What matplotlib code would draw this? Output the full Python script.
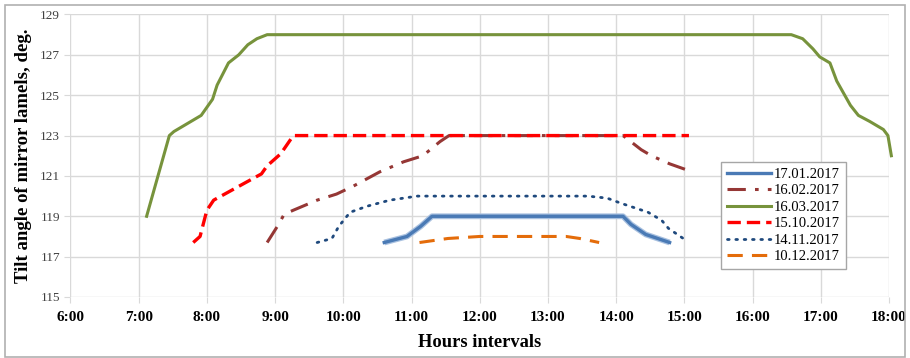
import matplotlib.pyplot as plt
from matplotlib.patches import Rectangle

# Данные: время (ЧЧ:ММ) и угол наклона ламелей, град.
jan17_t = ["10:36", "10:56", "11:08", "11:18", "14:06", "14:13", "14:26", "14:47"]
jan17_v = [117.7, 118.0, 118.5, 119.0, 119.0, 118.6, 118.1, 117.7]

feb16_t = ["8:53", "9:02", "9:08", "9:16", "9:37", "9:54", "10:09", "10:32", "10:53",
           "11:10", "11:25", "11:33", "14:06", "14:22", "14:31", "14:47", "15:02"]
feb16_v = [117.7, 118.5, 119.1, 119.3, 119.8, 120.1, 120.5, 121.2, 121.7,
           122.0, 122.7, 123.0, 123.0, 122.3, 122.0, 121.6, 121.3]

mar16_t = ["7:07", "7:27", "7:31", "7:55", "8:05", "8:09", "8:19", "8:28", "8:36", "8:44",
           "8:53", "16:34", "16:44", "16:53", "16:59", "17:08", "17:14", "17:18", "17:26",
           "17:33", "17:43", "17:55", "17:59", "18:02"]
mar16_v = [119.0, 123.0, 123.2, 124.0, 124.8, 125.5, 126.6, 127.0, 127.5, 127.8,
           128.0, 128.0, 127.8, 127.3, 126.9, 126.6, 125.7, 125.3, 124.5,
           124.0, 123.7, 123.3, 123.0, 122.0]

oct15_t = ["7:48", "7:54", "8:00", "8:06", "8:35", "8:48", "8:53", "9:05", "9:16", "15:04"]
oct15_v = [117.7, 118.0, 119.3, 119.8, 120.7, 121.1, 121.5, 122.1, 123.0, 123.0]

nov14_t = ["9:37", "9:50", "9:56", "10:06", "10:21", "10:41", "11:05", "13:35", "13:52",
           "14:04", "14:28", "14:40", "14:46", "14:59"]
nov14_v = [117.7, 117.9, 118.5, 119.2, 119.5, 119.8, 120.0, 120.0, 119.9,
           119.65, 119.2, 118.8, 118.4, 117.9]

dec10_t = ["11:07", "11:32", "12:00", "13:16", "13:28", "13:45"]
dec10_v = [117.7, 117.9, 118.0, 118.0, 117.9, 117.7]

x_ticks = list(range(6, 19))
x_labels = [f"{h}:00" for h in x_ticks]
y_ticks = list(range(115, 130, 2))


def hours(times):
    res = []
    for t in times:
        h, m = t.split(":")
        res.append(int(h) + int(m) / 60)
    return res


plt.rcParams['font.family'] = ['Liberation Serif', 'DejaVu Serif']

fig = plt.figure(figsize=(9.1, 3.58), dpi=100)
fig.patches.append(Rectangle((0.005, 0.003), 0.99, 0.984, transform=fig.transFigure,
                             fill=False, edgecolor='#b0b0b0', linewidth=1.2))
ax = fig.add_axes([0.0774, 0.1704, 0.8996, 0.7891])

# 17.01 - синяя линия с "ореолом"
ax.plot(hours(jan17_t), jan17_v, color='#a9c1e0', linewidth=4.2, solid_capstyle='butt', zorder=3)
ax.plot(hours(jan17_t), jan17_v, color='#4a7ab5', linewidth=2.4, zorder=4, label='17.01.2017')
ax.plot(hours(feb16_t), feb16_v, color='#953735', linewidth=2.2, zorder=3,
        dashes=(6, 3, 1.2, 3), label='16.02.2017')
ax.plot(hours(mar16_t), mar16_v, color='#77933c', linewidth=2.2, zorder=3,
        clip_on=False, label='16.03.2017')
ax.plot(hours(oct15_t), oct15_v, color='#ff0000', linewidth=2.4, zorder=5,
        dashes=(4, 1.8), label='15.10.2017')
ax.plot(hours(nov14_t), nov14_v, color='#1f497d', linewidth=2.0, zorder=3,
        dashes=(0.6, 2.4), dash_capstyle='round', label='14.11.2017')
ax.plot(hours(dec10_t), dec10_v, color='#e46c0a', linewidth=2.2, zorder=3,
        dashes=(5, 3), label='10.12.2017')

ax.set_xlim(6, 18)
ax.set_ylim(115, 129)
ax.set_xticks(x_ticks)
ax.set_xticklabels(x_labels, fontsize=11, fontweight='bold')
ax.set_yticks(y_ticks)
ax.tick_params(axis='y', labelsize=9.5, labelcolor='#404040', length=4, color='#d9d9d9')
ax.tick_params(axis='x', length=4, color='#d9d9d9', pad=6)
ax.grid(True, color='#d9d9d9', linewidth=1)
ax.set_axisbelow(True)
for s in ax.spines.values():
    s.set_visible(False)

ax.set_xlabel('Hours intervals', fontsize=13.3, fontweight='bold', labelpad=7)
ax.set_ylabel('Tilt angle of mirror lamels, deg.', fontsize=13.5, fontweight='bold', labelpad=6)

leg = ax.legend(loc='upper left', bbox_to_anchor=(0.795, 0.478), fontsize=10.5,
                handlelength=3.0, handletextpad=0.2, borderpad=0.4, labelspacing=0.22,
                borderaxespad=0, fancybox=False, framealpha=1, edgecolor='#a6a6a6')
leg.get_frame().set_linewidth(1)

fig.savefig('out.png', dpi=100)
